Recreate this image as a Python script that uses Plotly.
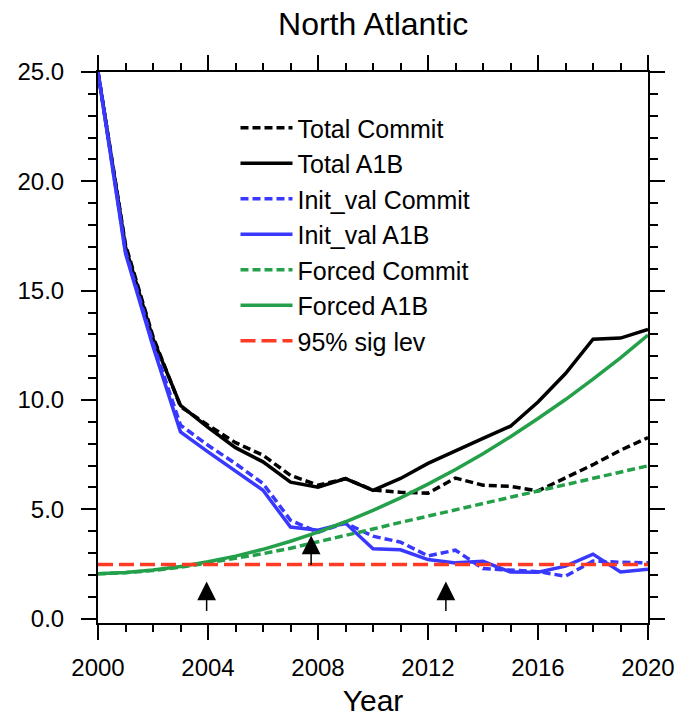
import plotly.graph_objects as go

years = list(range(2000, 2021))

total_commit = [25.0, 17.1, 12.9, 9.7, 8.85, 8.05, 7.47, 6.55, 6.1, 6.4, 5.88, 5.78, 5.74, 6.43, 6.1, 6.05, 5.84, 6.44, 7.04, 7.7, 8.28]
total_a1b = [25.0, 17.0, 12.8, 9.75, 8.75, 7.82, 7.17, 6.24, 6.01, 6.4, 5.87, 6.41, 7.1, 7.65, 8.24, 8.8, 9.91, 11.21, 12.78, 12.83, 13.23]
init_commit = [25.0, 16.8, 12.6, 8.85, 7.93, 7.09, 6.18, 4.5, 3.95, 4.37, 3.77, 3.5, 2.87, 3.13, 2.29, 2.2, 2.15, 1.94, 2.63, 2.58, 2.55]
init_a1b = [25.0, 16.7, 12.45, 8.54, 7.63, 6.75, 5.87, 4.19, 4.04, 4.37, 3.2, 3.15, 2.7, 2.55, 2.62, 2.13, 2.12, 2.4, 2.95, 2.13, 2.26]
forced_commit = [2.05, 2.1, 2.2, 2.35, 2.55, 2.74, 2.97, 3.22, 3.5, 3.8, 4.1, 4.4, 4.69, 4.97, 5.26, 5.55, 5.84, 6.13, 6.42, 6.7, 6.99]
forced_a1b = [2.05, 2.11, 2.22, 2.38, 2.6, 2.86, 3.17, 3.54, 3.96, 4.43, 4.95, 5.52, 6.15, 6.82, 7.54, 8.32, 9.15, 10.02, 10.95, 11.93, 12.97]
sig_lev = [2.48, 2.48, 2.48, 2.48, 2.48, 2.48, 2.48, 2.48, 2.48, 2.48, 2.48, 2.48, 2.48, 2.48, 2.48, 2.48, 2.48, 2.48, 2.48, 2.48, 2.48]

arrow_years = [2003.95, 2007.75, 2012.65]
arrow_tips = [1.7, 3.8, 1.7]

x_tick_vals = [2000, 2004, 2008, 2012, 2016, 2020]
x_tick_text = ["2000", "2004", "2008", "2012", "2016", "2020"]
y_tick_vals = [0, 5, 10, 15, 20, 25]
y_tick_text = ["0.0", "5.0", "10.0", "15.0", "20.0", "25.0"]

BLUE = "#3838ff"
GREEN = "#24a04a"
RED = "#ff3b24"
SHORT_DASH = "8px,4px"
LONG_DASH = "15px,6px"

series = [
    ("Total Commit", total_commit, "black", SHORT_DASH),
    ("Total A1B", total_a1b, "black", "solid"),
    ("Init_val Commit", init_commit, BLUE, SHORT_DASH),
    ("Init_val A1B", init_a1b, BLUE, "solid"),
    ("Forced Commit", forced_commit, GREEN, SHORT_DASH),
    ("Forced A1B", forced_a1b, GREEN, "solid"),
    ("95% sig lev", sig_lev, RED, LONG_DASH),
]

fig = go.Figure()
for name, vals, color, dash in series:
    fig.add_trace(go.Scatter(
        x=years, y=vals, mode="lines", name=name,
        line=dict(color=color, width=3.5, dash=dash),
    ))

for xa, yt in zip(arrow_years, arrow_tips):
    fig.add_annotation(
        x=xa, y=yt, xref="x", yref="y", ax=0, ay=31, axref="pixel", ayref="pixel",
        showarrow=True, arrowhead=2, arrowsize=2.5, arrowwidth=1.5,
        arrowcolor="black", text="", standoff=0,
    )

FONT = "Liberation Sans, Arial, Helvetica, sans-serif"

fig.update_layout(
    width=681, height=717,
    margin=dict(l=98, r=33, t=72, b=94, autoexpand=False),
    paper_bgcolor="white", plot_bgcolor="white",
    font=dict(family=FONT, color="black"),
    title=dict(text="North Atlantic", x=0.548, xref="container", xanchor="center",
               y=1 - 24 / 717, yref="container", yanchor="middle",
               font=dict(size=32, family=FONT, color="black")),
    showlegend=True,
    legend=dict(
        x=0.25, y=0.94, xanchor="left", yanchor="top",
        bgcolor="rgba(0,0,0,0)", borderwidth=0,
        font=dict(size=25, family=FONT, color="black"),
        itemwidth=52, tracegroupgap=0,
    ),
)

fig.update_xaxes(
    range=[2000, 2020], tickmode="array", tickvals=x_tick_vals, ticktext=x_tick_text,
    ticks="outside", ticklen=15, tickwidth=2, tickcolor="black",
    showline=True, linewidth=2, linecolor="black", mirror="allticks",
    showgrid=False, zeroline=False, automargin=True,
    tickfont=dict(size=24, family=FONT, color="black"),
    ticklabelstandoff=7,
    minor=dict(dtick=1, tick0=2000, ticks="outside", ticklen=7, tickwidth=2, tickcolor="black", showgrid=False),
    title=dict(text="Year", font=dict(size=30, family=FONT, color="black"), standoff=22),
)
fig.update_yaxes(
    range=[-0.2, 25], tickmode="array", tickvals=y_tick_vals, ticktext=y_tick_text,
    ticks="outside", ticklen=15, tickwidth=2, tickcolor="black",
    showline=True, linewidth=2, linecolor="black", mirror="allticks",
    showgrid=False, zeroline=False, automargin=False,
    tickfont=dict(size=24, family=FONT, color="black"),
    ticklabelstandoff=12,
    minor=dict(dtick=1, tick0=0, ticks="outside", ticklen=8, tickwidth=2, tickcolor="black", showgrid=False),
)

fig.write_html("out.html")
